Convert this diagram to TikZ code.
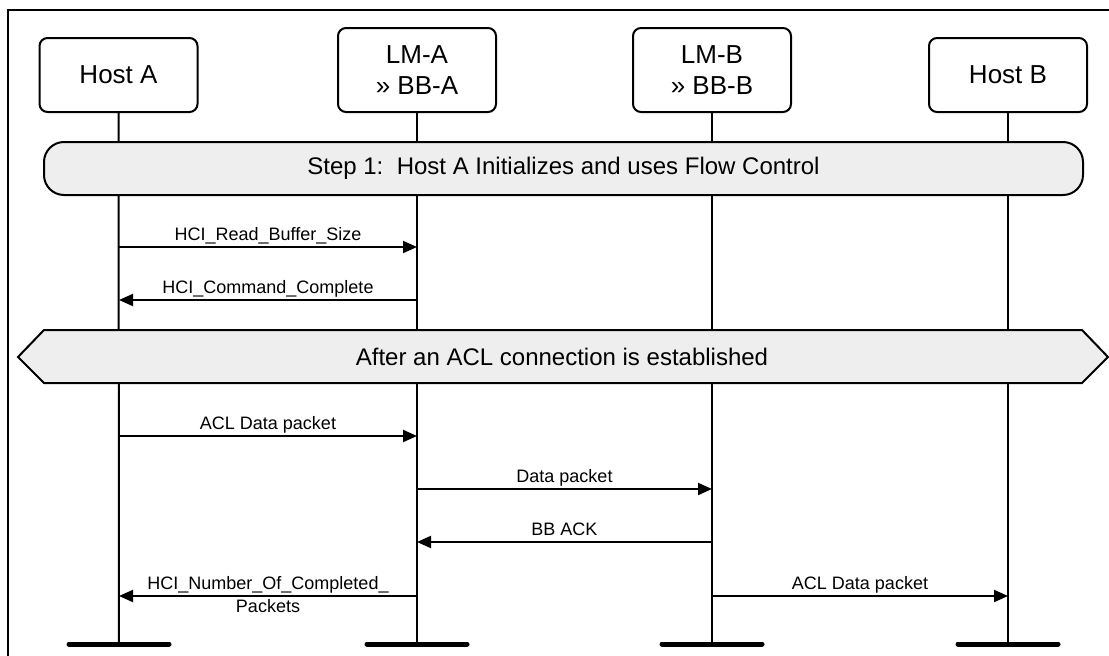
\documentclass[tikz,border=0pt]{standalone}
\usepackage{fontspec}
\setmainfont{Liberation Sans}
\usetikzlibrary{arrows.meta,calc}
\definecolor{bandgray}{HTML}{EEEEEE}
\begin{document}
\begin{tikzpicture}[x=1pt,y=-1pt,
  entity/.style={draw,line width=2pt,rounded corners=8pt,fill=white,minimum width=158pt,align=center,font=\fontsize{26}{31}\selectfont,inner sep=0pt},
  life/.style={line width=2pt},
  msg/.style={line width=2pt,-{Triangle[length=14pt,width=12pt]}},
  lbl/.style={font=\fontsize{18}{21}\selectfont,inner sep=2pt,text height=13pt,text depth=4pt},
  bar/.style={line width=5pt,line cap=round},
  band/.style={draw,line width=2pt,fill=bandgray},
  bandtext/.style={font=\fontsize{24}{28}\selectfont}]
\useasboundingbox (0,0) rectangle (1109,656);
% frame
\draw[line width=2pt] (8,656) -- (8,10) -- (1109,10);
% entities
\node[entity,minimum height=74pt] (hostA) at (118.5,75) {Host A};
\node[entity,minimum height=84pt] (lmA) at (417,70) {LM-A\\» BB-A};
\node[entity,minimum height=84pt] (lmB) at (712,70) {LM-B\\» BB-B};
\node[entity,minimum height=74pt] (hostB) at (1008,75) {Host B};
% lifeline ends
\coordinate (endA) at (119,644);
\coordinate (endLA) at (417,644);
\coordinate (endLB) at (712,644);
\coordinate (endB) at (1008,644);
\draw[life] (hostA.south) -- (endA);
\draw[life] (lmA.south) -- (endLA);
\draw[life] (lmB.south) -- (endLB);
\draw[life] (hostB.south) -- (endB);
% bars
\foreach \e in {endA,endLA,endLB,endB}
  \draw[bar] ($(\e)+(-50,0)$) -- ($(\e)+(50,0)$);
% step box
\node[band,rounded corners=20pt,minimum width=1039pt,minimum height=53pt,bandtext,inner sep=0pt] (step) at (563.5,168.5) {Step 1:\ \ Host A Initializes and uses Flow Control};
% hexagon
\draw[band] (18,357) -- (44,330) -- (1082,330) -- (1108,357) -- (1082,383) -- (44,383) -- cycle;
\node[bandtext] (acl) at (562,357) {After an ACL connection is established};
% message points
\coordinate (a1) at (119,247); \coordinate (b1) at (417,247);
\coordinate (a2) at (119,300); \coordinate (b2) at (417,300);
\coordinate (a3) at (119,436); \coordinate (b3) at (417,436);
\coordinate (b4) at (417,489); \coordinate (c4) at (712,489);
\coordinate (b5) at (417,542); \coordinate (c5) at (712,542);
\coordinate (a6) at (119,596); \coordinate (b6) at (417,596);
\coordinate (c6) at (712,596); \coordinate (d6) at (1008,596);
\draw[msg] (a1) -- node[lbl,above] (m1) {HCI\_Read\_Buffer\_Size} (b1);
\draw[msg] (b2) -- node[lbl,above] (m2) {HCI\_Command\_Complete} (a2);
\draw[msg] (a3) -- node[lbl,above] (m3) {ACL Data packet} (b3);
\draw[msg] (b4) -- node[lbl,above] (m4) {Data packet} (c4);
\draw[msg] (c5) -- node[lbl,above] (m5) {BB ACK} (b5);
\draw[msg] (b6) -- node[lbl,above] (m6) {HCI\_Number\_Of\_Completed\_} node[lbl,below] (m6b) {Packets} (a6);
\draw[msg] (c6) -- node[lbl,above] (m7) {ACL Data packet} (d6);
\end{tikzpicture}
\end{document}
